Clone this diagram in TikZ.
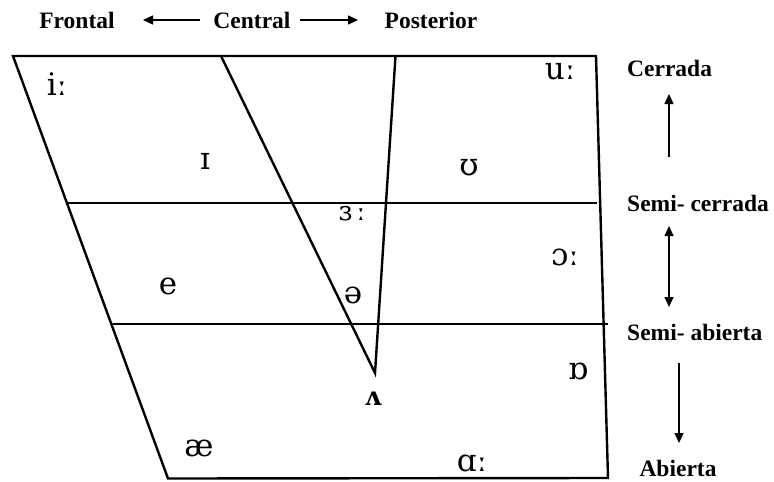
\documentclass[tikz,border=0pt]{standalone}
\usepackage{fontspec}
\setmainfont{Liberation Serif}
\newfontfamily\ipafont{DejaVu Serif}
\usetikzlibrary{arrows.meta}
\tikzset{
  frame/.style={line width=2.4pt, line join=miter},
  lbl/.style={font=\fontsize{23.5}{28}\selectfont\bfseries, inner sep=0pt},
  vow/.style={font=\ipafont\fontsize{31}{34}\selectfont, inner sep=0pt},
  arr/.style={line width=1.3pt, -{Triangle[width=9pt,length=10pt]}},
  darr/.style={line width=1.3pt, {Triangle[width=9pt,length=10pt]}-{Triangle[width=9pt,length=10pt]}}
}
\begin{document}
\begin{tikzpicture}[x=1pt,y=-1pt]
\useasboundingbox (0,0) rectangle (774,482);
% outer quadrilateral
\coordinate (TL) at (13,56);
\coordinate (TR) at (596,56);
\coordinate (BR) at (608,478);
\coordinate (BL) at (168,478.5);
\draw[frame] (TL) -- (TR) -- (BR) -- (BL) -- cycle;
% horizontal lines
\coordinate (H1a) at (67,203);
\coordinate (H1b) at (597,203);
\coordinate (H2a) at (112,324);
\coordinate (H2b) at (608,324);
\draw[frame] (H1a) -- (H1b);
\draw[frame] (H2a) -- (H2b);
% central triangle
\coordinate (C1) at (221,56);
\coordinate (C2) at (395.5,56);
\coordinate (AP) at (375,373);
\draw[frame] (C1) -- (AP) -- (C2);
% top labels
\node[lbl] (fr) at (77,20) {Frontal};
\node[lbl] (ce) at (252,20) {Central};
\node[lbl] (po) at (431,20) {Posterior};
\coordinate (la) at (200,20);
\coordinate (lb) at (143,20);
\coordinate (ra) at (300,20);
\coordinate (rb) at (358,20);
\draw[arr] (la) -- (lb);
\draw[arr] (ra) -- (rb);
% right labels
\node[lbl, anchor=west] (cer) at (627,68) {Cerrada};
\node[lbl, anchor=west] (sc) at (627,203) {Semi- cerrada};
\node[lbl, anchor=west] (sa) at (627,332) {Semi- abierta};
\node[lbl] (ab) at (678,468) {Abierta};
\coordinate (u1) at (669,157);
\coordinate (u2) at (669,94);
\coordinate (d1) at (669,226);
\coordinate (d2) at (669,307);
\coordinate (w1) at (679,363);
\coordinate (w2) at (679,443);
\draw[arr] (u1) -- (u2);
\draw[darr] (d1) -- (d2);
\draw[arr] (w1) -- (w2);
% vowels
\node[vow] (iv) at (57,84) {iː};
\node[vow] (Iv) at (205,161) {ɪ};
\node[vow] (uv) at (560,72) {uː};
\node[vow] (Uv) at (469,168) {ʊ};
\node[vow, font=\ipafont\fontsize{27}{30}\selectfont] (3v) at (352,214) {ɜ\kern4ptː};
\node[vow] (ev) at (168,286) {e};
\node[vow] (schwa) at (353,295) {ə};
\node[vow] (ov) at (565,257) {ɔː};
\node[vow] (Ov) at (578,371) {ɒ};
\node[vow, font=\ipafont\fontsize{26}{30}\selectfont\bfseries] (Av) at (373,399) {ʌ};
\node[vow] (aev) at (199,448) {æ};
\node[vow] (av) at (472,463) {ɑː};
\end{tikzpicture}
\end{document}
